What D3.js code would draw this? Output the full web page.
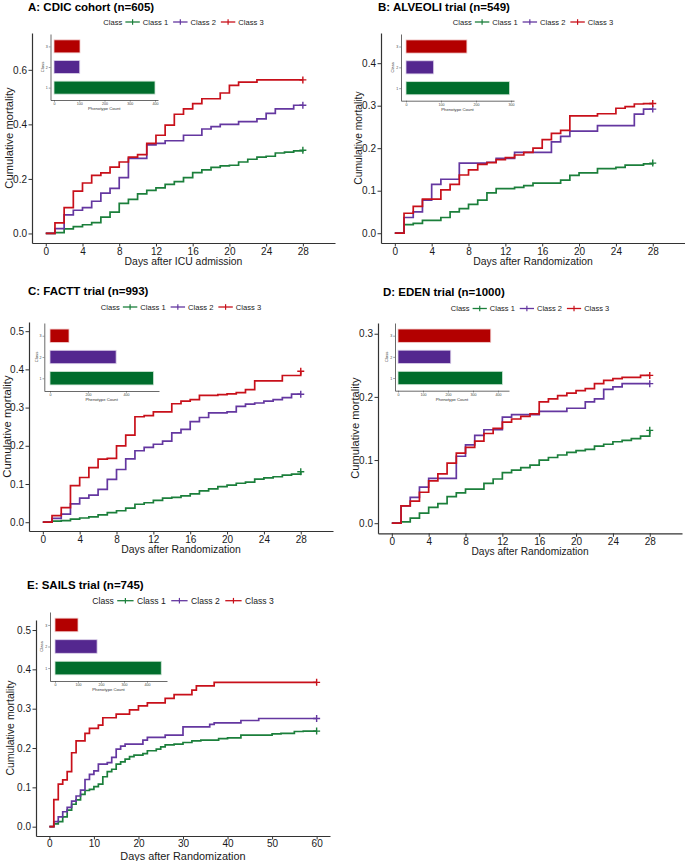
<!DOCTYPE html>
<html><head><meta charset="utf-8">
<script src="https://cdn.jsdelivr.net/npm/d3@7"></script>
<style>
body{margin:0;background:#fff}
svg{display:block;font-family:"Liberation Sans",Arial,Helvetica,sans-serif}
</style>
</head><body>
<svg id="chart" width="685" height="861"></svg>
<script>
// ================= DATA =================
const classNames = ["Class 1", "Class 2", "Class 3"];
const classKeys = ["1", "2", "3"];

const days28 = [0,1,2,3,4,5,6,7,8,9,10,11,12,13,14,15,16,17,18,19,20,21,22,23,24,25,26,27,28];
const days60 = [0,1,2,3,4,5,6,7,8,9,10,11,12,13,14,15,16,17,18,19,20,21,22,23,24,25,26,27,28,29,30,
  31,32,33,34,35,36,37,38,39,40,41,42,43,44,45,46,47,48,49,50,51,52,53,54,55,56,57,58,59,60];

const xTicks28 = [0,4,8,12,16,20,24,28];
const xTicks60 = [0,10,20,30,40,50,60];

// A: CDIC cohort
const cdicClass1 = [0,.003,.017,.025,.032,.040,.060,.078,.110,.125,.145,.158,.167,.180,.190,.205,.223,.233,.242,.248,.250,.262,.272,.280,.283,.295,.298,.303,.305];
const cdicClass2 = [0,.018,.068,.085,.095,.118,.148,.165,.205,.275,.275,.325,.330,.340,.340,.360,.360,.383,.392,.400,.400,.410,.410,.420,.440,.457,.457,.470,.470];
const cdicClass3 = [0,.039,.095,.155,.185,.213,.222,.243,.262,.280,.289,.330,.360,.397,.437,.457,.476,.494,.494,.515,.543,.555,.555,.563,.563,.563,.563,.563,.563];
const cdicCounts = [400,102,103];
const cdicYTicks = [0,.2,.4,.6];
const cdicCountTicks = [0,100,200,300,400];

// B: ALVEOLI trial
const alveoliClass1 = [0,.020,.023,.030,.030,.037,.050,.058,.068,.078,.095,.105,.105,.108,.112,.118,.118,.118,.125,.136,.142,.142,.152,.152,.155,.160,.160,.163,.165];
const alveoliClass2 = [0,.037,.050,.078,.115,.127,.127,.165,.165,.165,.167,.176,.176,.190,.190,.190,.190,.215,.228,.240,.240,.240,.253,.253,.253,.253,.280,.292,.292];
const alveoliClass3 = [0,.047,.063,.080,.080,.102,.115,.137,.149,.162,.166,.173,.178,.184,.190,.200,.220,.235,.242,.276,.276,.276,.281,.281,.294,.298,.304,.305,.305];
const alveoliCounts = [296,79,174];
const alveoliYTicks = [0,.1,.2,.3,.4];
const alveoliCountTicks = [0,100,200,300];

// C: FACTT trial
const facttClass1 = [0,.003,.004,.008,.011,.014,.019,.025,.030,.037,.047,.051,.057,.063,.065,.069,.074,.082,.087,.093,.097,.102,.105,.113,.116,.119,.123,.126,.132];
const facttClass2 = [0,.010,.021,.048,.063,.071,.086,.112,.138,.166,.187,.196,.204,.212,.234,.243,.263,.274,.286,.286,.289,.303,.309,.312,.317,.321,.326,.335,.335];
const facttClass3 = [0,.017,.038,.096,.117,.143,.165,.167,.200,.228,.276,.279,.289,.289,.310,.317,.321,.332,.332,.334,.336,.339,.347,.370,.370,.370,.384,.384,.395];
const facttCounts = [545,348,100];
const facttYTicks = [0,.1,.2,.3,.4,.5];
const facttCountTicks = [0,200,400];

// D: EDEN trial
const edenClass1 = [0,.002,.008,.016,.025,.031,.042,.048,.054,.054,.063,.070,.080,.084,.088,.092,.100,.104,.108,.112,.115,.117,.122,.125,.129,.131,.134,.138,.147];
const edenClass2 = [0,.0275,.041,.057,.071,.071,.071,.106,.124,.139,.148,.148,.168,.172,.172,.172,.177,.177,.177,.182,.182,.192,.197,.212,.216,.221,.221,.221,.221];
const edenClass3 = [0,.0275,.035,.049,.067,.078,.095,.111,.120,.130,.142,.150,.160,.165,.169,.173,.192,.197,.202,.206,.210,.213,.221,.226,.229,.231,.231,.234,.234];
const edenCounts = [418,211,371];
const edenYTicks = [0,.1,.2,.3];
const edenCountTicks = [0,100,200,300,400];

// E: SAILS trial
const sailsClass1 = [0,.007,.013,.025,.042,.057,.068,.082,.092,.095,
  .102,.108,.127,.140,.146,.159,.165,.172,.178,.182,
  .182,.186,.193,.193,.197,.203,.208,.208,.210,.210,
  .214,.214,.218,.218,.220,.220,.220,.220,.224,.224,
  .226,.226,.226,.233,.233,.233,.233,.233,.233,.233,
  .236,.236,.237,.237,.237,.242,.242,.243,.243,.243,
  .243];
const sailsClass2 = [0,.013,.025,.038,.049,.065,.078,.093,.120,.133,
  .142,.159,.159,.163,.176,.197,.205,.210,.210,.210,
  .210,.220,.227,.227,.227,.227,.233,.233,.233,.233,
  .254,.254,.254,.254,.254,.254,.260,.264,.264,.264,
  .264,.264,.264,.270,.270,.270,.270,.275,.275,.275,
  .275,.275,.275,.275,.275,.275,.275,.275,.275,.275,
  .275];
const sailsClass3 = [0,.069,.108,.119,.140,.188,.218,.218,.237,.250,
  .250,.258,.277,.277,.277,.286,.286,.286,.297,.297,
  .307,.307,.315,.315,.315,.315,.326,.326,.336,.336,
  .336,.336,.347,.358,.358,.358,.358,.367,.367,.367,
  .367,.367,.367,.367,.367,.367,.367,.367,.367,.367,
  .367,.367,.367,.367,.367,.367,.367,.367,.367,.367,
  .367];
const sailsCounts = [462,183,100];
const sailsYTicks = [0,.1,.2,.3,.4,.5];
const sailsCountTicks = [0,100,200,300,400];

// ================= STYLE / LAYOUT =================
const lineColors = ["#1B7F3B", "#6437A0", "#C8101A"];
const barColors  = ["#006D2C", "#54278F", "#B30000"];
const barStroke  = ["#cfe6d6", "#ddd3ea", "#f1cccc"];
const axisColor = "#333";
const textColor = "#1a1a1a";

const panels = [
  { title: "A: CDIC cohort (n=605)", xLabel: "Days after ICU admission",
    days: days28, series: [cdicClass1, cdicClass2, cdicClass3], xTicks: xTicks28, yTicks: cdicYTicks,
    counts: cdicCounts, countTicks: cdicCountTicks,
    box: {l:32, r:335, t:33, b:243}, xDom: [-1.5, 31.5], yDom: [-0.035, 0.735], xTickPad: 1.2,
    titlePos: [28, 11], legendY: 22, legendFont: 7.6, yTitleX: 9, yTitleFont: 11.2, xTitleY: 265, xTitleFont: 10.4,
    inset: {l:50.5, r:158, t:34, b:100, x0:54, xRef:155} },
  { title: "B: ALVEOLI trial (n=549)", xLabel: "Days after Randomization",
    days: days28, series: [alveoliClass1, alveoliClass2, alveoliClass3], xTicks: xTicks28, yTicks: alveoliYTicks,
    counts: alveoliCounts, countTicks: alveoliCountTicks,
    box: {l:381, r:685, t:33, b:243}, xDom: [-1.5, 31.5], yDom: [-0.023, 0.471], xTickPad: 1.2,
    titlePos: [378, 11], legendY: 22, legendFont: 7.6, yTitleX: 358, yTitleFont: 10.3, xTitleY: 265, xTitleFont: 10.4,
    inset: {l:401, r:514, t:34, b:100.7, x0:406, xRef:511} },
  { title: "C: FACTT trial (n=993)", xLabel: "Days after Randomization",
    days: days28, series: [facttClass1, facttClass2, facttClass3], xTicks: xTicks28, yTicks: facttYTicks,
    counts: facttCounts, countTicks: facttCountTicks,
    box: {l:29, r:333, t:322, b:531}, xDom: [-1.5, 31.5], yDom: [-0.023, 0.524], xTickPad: 1.2,
    titlePos: [28, 294.5], legendY: 307, legendFont: 7.6, yTitleX: 7, yTitleFont: 11.3, xTitleY: 553, xTitleFont: 10.4,
    inset: {l:44.3, r:159, t:323, b:391, x0:50, xRef:126} },
  { title: "D: EDEN trial (n=1000)", xLabel: "Days after Randomization",
    days: days28, series: [edenClass1, edenClass2, edenClass3], xTicks: xTicks28, yTicks: edenYTicks,
    counts: edenCounts, countTicks: edenCountTicks,
    box: {l:378, r:682, t:323, b:533.3}, xDom: [-1.5, 31.5], yDom: [-0.016, 0.317], xTickPad: 1.2,
    titlePos: [383, 295.5], legendY: 308.5, legendFont: 7.5, yTitleX: 355, yTitleFont: 11.2, xTitleY: 555, xTitleFont: 10.2,
    inset: {l:395, r:509, t:323, b:390.7, x0:398, xRef:498} },
  { title: "E: SAILS trial (n=745)", xLabel: "Days after Randomization",
    days: days60, series: [sailsClass1, sailsClass2, sailsClass3], xTicks: xTicks60, yTicks: sailsYTicks,
    counts: sailsCounts, countTicks: sailsCountTicks,
    box: {l:36, r:330, t:620, b:836}, xDom: [-3, 63], yDom: [-0.0237, 0.5255], xTickPad: 0.3,
    titlePos: [27, 588.5], legendY: 600.7, legendFont: 8.6, yTitleX: 10, yTitleFont: 10.5, xTitleY: 859.8, xTitleFont: 10.9,
    inset: {l:50, r:167, t:612, b:681, x0:55, xRef:147} }
];

// ================= DRAW =================
const svg = d3.select("#chart");

function styleAxis(sel, fontSize) {
  sel.select(".domain").attr("stroke", axisColor).attr("stroke-width", 1.2);
  sel.selectAll(".tick line").attr("stroke", axisColor).attr("stroke-width", 1);
  sel.selectAll(".tick text").attr("fill", textColor).attr("font-size", fontSize)
     .attr("font-family", '"Liberation Sans",Arial,sans-serif');
}

function drawPanel(p) {
  const g = svg.append("g");
  const x = d3.scaleLinear().domain(p.xDom).range([p.box.l, p.box.r]);
  const y = d3.scaleLinear().domain(p.yDom).range([p.box.b, p.box.t]);

  // title
  g.append("text").attr("x", p.titlePos[0]).attr("y", p.titlePos[1])
    .attr("font-size", 11.5).attr("font-weight", "bold").attr("fill", "#000").text(p.title);

  // axes
  const gx = g.append("g").attr("transform", `translate(0,${p.box.b})`)
    .call(d3.axisBottom(x).tickValues(p.xTicks).tickSize(3.5).tickSizeOuter(0).tickPadding(p.xTickPad).tickFormat(d3.format("d")));
  styleAxis(gx, 10);
  const gy = g.append("g").attr("transform", `translate(${p.box.l},0)`)
    .call(d3.axisLeft(y).tickValues(p.yTicks).tickSize(3.5).tickSizeOuter(0).tickPadding(1.5).tickFormat(d3.format(".1f")));
  styleAxis(gy, 10);

  // axis titles
  g.append("text").attr("x", (p.box.l + p.box.r) / 2).attr("y", p.xTitleY)
    .attr("text-anchor", "middle").attr("font-size", p.xTitleFont).attr("fill", textColor).text(p.xLabel);
  g.append("text").attr("transform", `translate(${p.yTitleX},${(p.box.t + p.box.b) / 2}) rotate(-90)`)
    .attr("dy", "0.35em").attr("text-anchor", "middle").attr("font-size", p.yTitleFont)
    .attr("fill", textColor).text("Cumulative mortality");

  // inset bar chart
  drawInset(g, p);

  // step lines
  const line = d3.line().x((d, j) => x(p.days[j])).y(d => y(d)).curve(d3.curveStepAfter);
  p.series.forEach((s, i) => {
    g.append("path").datum(s).attr("d", line).attr("fill", "none")
      .attr("stroke", lineColors[i]).attr("stroke-width", 1.7).attr("stroke-linejoin", "miter");
    const lx = x(p.days[p.days.length - 1]), ly = y(s[s.length - 1]);
    g.append("path").attr("d", `M${lx - 3.5},${ly}H${lx + 3.5}M${lx},${ly - 3.5}V${ly + 3.5}`)
      .attr("stroke", lineColors[i]).attr("stroke-width", 1.4);
  });

  // legend
  drawLegend(g, p);
}

function drawInset(g, p) {
  const ins = p.inset;
  const k = (ins.xRef - ins.x0) / p.countTicks[p.countTicks.length - 1];
  const xs = d3.scaleLinear()
    .domain([-(ins.x0 - ins.l) / k, p.countTicks[p.countTicks.length - 1] + (ins.r - ins.xRef) / k])
    .range([ins.l, ins.r]);
  const ys = d3.scalePoint().domain(["3", "2", "1"]).range([ins.t, ins.b]).padding(0.6);
  const bh = ys.step() * 0.63;
  const ig = g.append("g");
  p.counts.forEach((c, i) => {
    ig.append("rect").attr("x", xs(0)).attr("y", ys(classKeys[i]) - bh / 2)
      .attr("width", xs(c) - xs(0)).attr("height", bh)
      .attr("fill", barColors[i]).attr("stroke", barStroke[i]).attr("stroke-width", 0.8);
  });
  const ax = ig.append("g").attr("transform", `translate(0,${ins.b})`)
    .call(d3.axisBottom(xs).tickValues(p.countTicks).tickSize(1.8).tickSizeOuter(0).tickPadding(1).tickFormat(d3.format("d")));
  const ay = ig.append("g").attr("transform", `translate(${ins.l},0)`)
    .call(d3.axisLeft(ys).tickSize(1.8).tickSizeOuter(0).tickPadding(1));
  [ax, ay].forEach(a => {
    a.select(".domain").attr("stroke", "#444").attr("stroke-width", 0.8);
    a.selectAll(".tick line").attr("stroke", "#444").attr("stroke-width", 0.5);
    a.selectAll(".tick text").attr("fill", "#444").attr("font-size", 3.6);
  });
  ig.append("text").attr("x", (ins.l + ins.r) / 2).attr("y", ins.b + 10)
    .attr("text-anchor", "middle").attr("font-size", 4.2).attr("fill", "#333").text("Phenotype Count");
  ig.append("text").attr("transform", `translate(${ins.l - 8},${(ins.t + ins.b) / 2}) rotate(-90)`)
    .attr("dy", "0.35em").attr("text-anchor", "middle").attr("font-size", 4.2).attr("fill", "#333").text("Class");
}

function drawLegend(g, p) {
  const lg = g.append("g");
  const fs = p.legendFont;
  const keyLen = fs * 1.9, gapA = fs * 0.4, gapB = fs * 0.65;
  let cx = 0;
  const t0 = lg.append("text").attr("x", cx).attr("y", 0).attr("dy", "0.35em")
    .attr("font-size", fs).attr("fill", textColor).text("Class");
  cx += t0.node().getComputedTextLength() + gapA;
  classNames.forEach((name, i) => {
    lg.append("path").attr("d", `M${cx},0H${cx + keyLen}`).attr("stroke", lineColors[i]).attr("stroke-width", 1.3);
    const mx = cx + keyLen / 2;
    lg.append("path").attr("d", `M${mx},-2.8V2.8`).attr("stroke", lineColors[i]).attr("stroke-width", 1.2);
    cx += keyLen + gapA;
    const t = lg.append("text").attr("x", cx).attr("y", 0).attr("dy", "0.35em")
      .attr("font-size", fs).attr("fill", textColor).text(name);
    cx += t.node().getComputedTextLength() + (i < 2 ? gapB : 0);
  });
  const center = (p.box.l + p.box.r) / 2;
  lg.attr("transform", `translate(${center - cx / 2},${p.legendY})`);
}

panels.forEach(drawPanel);
</script>
</body></html>
